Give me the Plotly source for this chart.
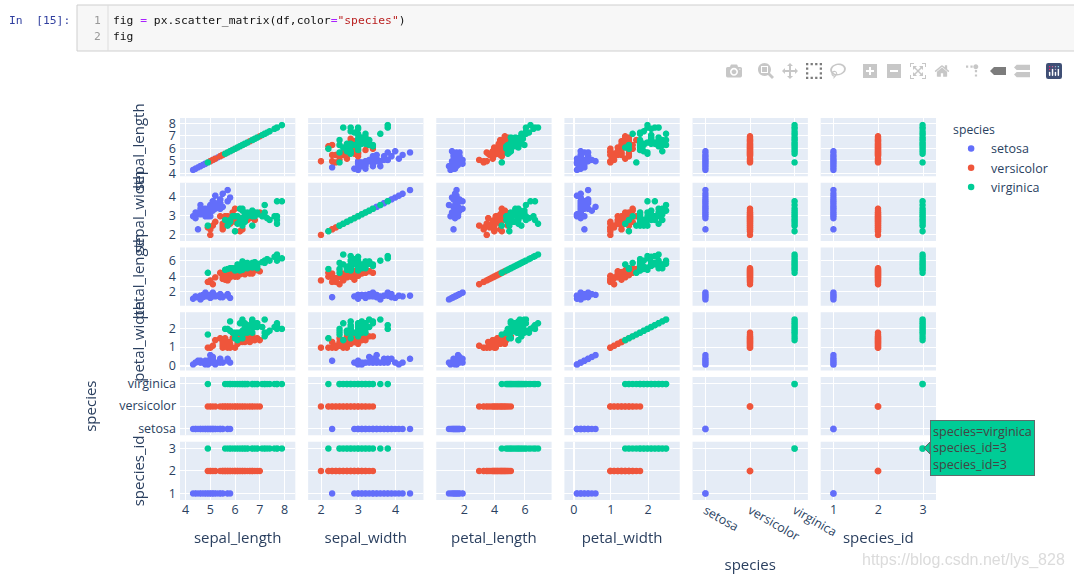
import plotly.graph_objects as go

SPECIES = ["setosa", "versicolor", "virginica"]
COLORS = ["#636efa", "#EF553B", "#00cc96"]
COLUMNS = ["sepal_length", "sepal_width", "petal_length", "petal_width", "species", "species_id"]

setosa_sl = [5.1,4.9,4.7,4.6,5.0,5.4,4.6,5.0,4.4,4.9,5.4,4.8,4.8,4.3,5.8,5.7,5.4,5.1,5.7,5.1,5.4,5.1,4.6,5.1,4.8,5.0,5.0,5.2,5.2,4.7,4.8,5.4,5.2,5.5,4.9,5.0,5.5,4.9,4.4,5.1,5.0,4.5,4.4,5.0,5.1,4.8,5.1,4.6,5.3,5.0]
setosa_sw = [3.5,3.0,3.2,3.1,3.6,3.9,3.4,3.4,2.9,3.1,3.7,3.4,3.0,3.0,4.0,4.4,3.9,3.5,3.8,3.8,3.4,3.7,3.6,3.3,3.4,3.0,3.4,3.5,3.4,3.2,3.1,3.4,4.1,4.2,3.1,3.2,3.5,3.1,3.0,3.4,3.5,2.3,3.2,3.5,3.8,3.0,3.8,3.2,3.7,3.3]
setosa_pl = [1.4,1.4,1.3,1.5,1.4,1.7,1.4,1.5,1.4,1.5,1.5,1.6,1.4,1.1,1.2,1.5,1.3,1.4,1.7,1.5,1.7,1.5,1.0,1.7,1.9,1.6,1.6,1.5,1.4,1.6,1.6,1.5,1.5,1.4,1.5,1.2,1.3,1.5,1.3,1.5,1.3,1.3,1.3,1.6,1.9,1.4,1.6,1.4,1.5,1.4]
setosa_pw = [0.2,0.2,0.2,0.2,0.2,0.4,0.3,0.2,0.2,0.1,0.2,0.2,0.1,0.1,0.2,0.4,0.4,0.3,0.3,0.3,0.2,0.4,0.2,0.5,0.2,0.2,0.4,0.2,0.2,0.2,0.2,0.4,0.1,0.2,0.1,0.2,0.2,0.1,0.2,0.2,0.3,0.3,0.2,0.6,0.4,0.3,0.2,0.2,0.2,0.2]

versicolor_sl = [7.0,6.4,6.9,5.5,6.5,5.7,6.3,4.9,6.6,5.2,5.0,5.9,6.0,6.1,5.6,6.7,5.6,5.8,6.2,5.6,5.9,6.1,6.3,6.1,6.4,6.6,6.8,6.7,6.0,5.7,5.5,5.5,5.8,6.0,5.4,6.0,6.7,6.3,5.6,5.5,5.5,6.1,5.8,5.0,5.6,5.7,5.7,6.2,5.1,5.7]
versicolor_sw = [3.2,3.2,3.1,2.3,2.8,2.8,3.3,2.4,2.9,2.7,2.0,3.0,2.2,2.9,2.9,3.1,3.0,2.7,2.2,2.5,3.2,2.8,2.5,2.8,2.9,3.0,2.8,3.0,2.9,2.6,2.4,2.4,2.7,2.7,3.0,3.4,3.1,2.3,3.0,2.5,2.6,3.0,2.6,2.3,2.7,3.0,2.9,2.9,2.5,2.8]
versicolor_pl = [4.7,4.5,4.9,4.0,4.6,4.5,4.7,3.3,4.6,3.9,3.5,4.2,4.0,4.7,3.6,4.4,4.5,4.1,4.5,3.9,4.8,4.0,4.9,4.7,4.3,4.4,4.8,5.0,4.5,3.5,3.8,3.7,3.9,5.1,4.5,4.5,4.7,4.4,4.1,4.0,4.4,4.6,4.0,3.3,4.2,4.2,4.2,4.3,3.0,4.1]
versicolor_pw = [1.4,1.5,1.5,1.3,1.5,1.3,1.6,1.0,1.3,1.4,1.0,1.5,1.0,1.4,1.3,1.4,1.5,1.0,1.5,1.1,1.8,1.3,1.5,1.2,1.3,1.4,1.4,1.7,1.5,1.0,1.1,1.0,1.2,1.6,1.5,1.6,1.5,1.3,1.3,1.3,1.2,1.4,1.2,1.0,1.3,1.2,1.3,1.3,1.1,1.3]

virginica_sl = [6.3,5.8,7.1,6.3,6.5,7.6,4.9,7.3,6.7,7.2,6.5,6.4,6.8,5.7,5.8,6.4,6.5,7.7,7.7,6.0,6.9,5.6,7.7,6.3,6.7,7.2,6.2,6.1,6.4,7.2,7.4,7.9,6.4,6.3,6.1,7.7,6.3,6.4,6.0,6.9,6.7,6.9,5.8,6.8,6.7,6.7,6.3,6.5,6.2,5.9]
virginica_sw = [3.3,2.7,3.0,2.9,3.0,3.0,2.5,2.9,2.5,3.6,3.2,2.7,3.0,2.5,2.8,3.2,3.0,3.8,2.6,2.2,3.2,2.8,2.8,2.7,3.3,3.2,2.8,3.0,2.8,3.0,2.8,3.8,2.8,2.8,2.6,3.0,3.4,3.1,3.0,3.1,3.1,3.1,2.7,3.2,3.3,3.0,2.5,3.0,3.4,3.0]
virginica_pl = [6.0,5.1,5.9,5.6,5.8,6.6,4.5,6.3,5.8,6.1,5.1,5.3,5.5,5.0,5.1,5.3,5.5,6.7,6.9,5.0,5.7,4.9,6.7,4.9,5.7,6.0,4.8,4.9,5.6,5.8,6.1,6.4,5.6,5.1,5.6,6.1,5.6,5.5,4.8,5.4,5.6,5.1,5.1,5.9,5.7,5.2,5.0,5.2,5.4,5.1]
virginica_pw = [2.5,1.9,2.1,1.8,2.2,2.1,1.7,1.8,1.8,2.5,2.0,1.9,2.1,2.0,2.4,2.3,1.8,2.2,2.3,1.5,2.3,2.0,2.0,1.8,2.1,1.8,1.8,1.8,2.1,1.6,1.9,2.0,2.2,1.5,1.4,2.3,2.4,1.8,1.8,2.1,2.4,2.3,1.9,2.3,2.5,2.3,1.9,2.0,2.3,1.8]

MEASURES = [
    [setosa_sl, setosa_sw, setosa_pl, setosa_pw],
    [versicolor_sl, versicolor_sw, versicolor_pl, versicolor_pw],
    [virginica_sl, virginica_sw, virginica_pl, virginica_pw],
]

# axis ranges
AXIS_RANGES = [[3.77, 8.43], [1.65, 4.75], [0.14, 7.76], [-0.25, 2.85], [-0.29, 2.29], [0.71, 3.29]]

W, H = 1074, 578
L, R, T, B = 180, 936, 118, 500


def px_x(v):
    return (v - L) / (R - L)


def px_y(v):
    return (B - v) / (B - T)


fig = go.Figure()
for i, name in enumerate(SPECIES):
    n = len(MEASURES[i][0])
    cols = MEASURES[i] + [[name] * n, [i + 1] * n]
    fig.add_trace(go.Splom(
        name=name, legendgroup=name, showlegend=True,
        dimensions=[dict(label=c, values=v) for c, v in zip(COLUMNS, cols)],
        marker=dict(color=COLORS[i], symbol="circle", size=6.5),
        diagonal=dict(visible=True),
    ))

TIP = "#5f6b6b"
shapes = [
    dict(type="rect", xref="paper", yref="paper", x0=px_x(77), x1=px_x(1080), y0=px_y(5), y1=px_y(51),
         fillcolor="#f7f7f7", line=dict(color="#cfcfcf", width=1), layer="below"),
    dict(type="line", xref="paper", yref="paper", x0=px_x(108), x1=px_x(108), y0=px_y(5), y1=px_y(51),
         line=dict(color="#dddddd", width=1), layer="below"),
    dict(type="path", xref="paper", yref="paper",
         path=f"M {px_x(930)} {px_y(442)} L {px_x(924)} {px_y(448)} L {px_x(930)} {px_y(454)} Z",
         fillcolor="#00cc96", line=dict(color=TIP, width=1), layer="above"),
]

MONO = "DejaVu Sans Mono, Liberation Mono, monospace"
annotations = [
    dict(text="In  [15]:", x=px_x(7), y=px_y(20), xanchor="left", yanchor="middle",
         font=dict(family=MONO, size=11.3, color="#303f9f")),
    dict(text="1", x=px_x(103), y=px_y(20), xanchor="right", yanchor="middle",
         font=dict(family=MONO, size=11.3, color="#999999")),
    dict(text="2", x=px_x(103), y=px_y(37), xanchor="right", yanchor="middle",
         font=dict(family=MONO, size=11.3, color="#999999")),
    dict(text='fig <span style="color:#aa22ff">=</span> px.scatter_matrix(df,color<span style="color:#aa22ff">=</span>'
              '<span style="color:#ba2121">"species"</span>)',
         x=px_x(110.5), y=px_y(20), xanchor="left", yanchor="middle",
         font=dict(family=MONO, size=11.3, color="#111111")),
    dict(text="fig", x=px_x(110.5), y=px_y(37), xanchor="left", yanchor="middle",
         font=dict(family=MONO, size=11.3, color="#111111")),
    dict(text="species=virginica<br>species_id=3<br>species_id=3",
         x=px_x(929.5), y=px_y(448), xanchor="left", yanchor="middle", align="left",
         bgcolor="#00cc96", bordercolor=TIP, borderwidth=1, borderpad=2,
         font=dict(family="Open Sans, verdana, arial, sans-serif", size=12.6, color="#444444")),
    dict(text="https://blog.csdn.net/lys_828", x=px_x(1067), y=px_y(560), xanchor="right", yanchor="middle",
         font=dict(family="Liberation Sans, Arial, sans-serif", size=16, color="rgba(195,195,195,0.6)")),
]
for a in annotations:
    a.update(xref="paper", yref="paper", showarrow=False)

axes = {}
for k, (col, rng) in enumerate(zip(COLUMNS, AXIS_RANGES)):
    suffix = "" if k == 0 else str(k + 1)
    axes["xaxis" + suffix] = dict(range=rng, automargin=False, title=dict(text=col, font=dict(size=15)))
    axes["yaxis" + suffix] = dict(range=rng, automargin=False, ticklabelstandoff=3,
                                  title=dict(text=col, font=dict(size=15), standoff=18 if col == "species" else 20))
axes["xaxis6"]["dtick"] = 1
axes["yaxis6"]["dtick"] = 1

fig.update_layout(
    template="plotly",
    width=W, height=H, autosize=False,
    font=dict(size=12.5),
    margin=dict(l=L, r=W - R, t=T, b=H - B),
    dragmode="select", hovermode="closest",
    legend=dict(title=dict(text="species", font=dict(size=12.2)), tracegroupgap=0, y=1),
    shapes=shapes, annotations=annotations,
    **axes,
)

post = """
document.body.style.margin='0';
var m=document.querySelector('.modebar');
if(m){m.style.top='60px';m.style.right='8px';m.style.whiteSpace='nowrap';}
var r=document.querySelector('.modebar-btn--logo svg rect');
if(r){r.style.fill='#3f4f75';}
"""
fig.write_html(
    "out.html",
    config={
        "displayModeBar": True,
        "modeBarButtonsToAdd": ["toggleSpikelines", "v1hovermode"],
    },
    post_script=post,
)
